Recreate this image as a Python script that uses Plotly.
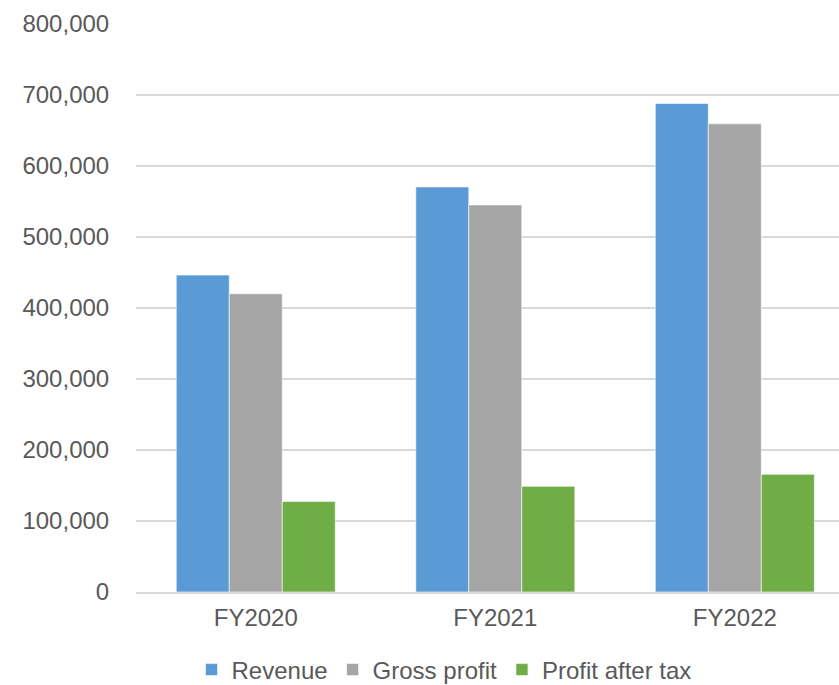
import plotly.graph_objects as go

years = ["FY2020", "FY2021", "FY2022"]
revenue = [446400, 570500, 688000]
gross_profit = [420000, 545100, 659400]
profit_after_tax = [127600, 148800, 165700]

series = [
    ("Revenue", revenue, "#5b9bd5"),
    ("Gross profit", gross_profit, "#a5a5a5"),
    ("Profit after tax", profit_after_tax, "#70ad47"),
]

font_family = "Liberation Sans, Arial, sans-serif"
text_color = "#595959"

fig = go.Figure()
for name, values, color in series:
    fig.add_trace(go.Bar(
        x=years, y=values, name=name,
        marker=dict(color=color, line=dict(color="white", width=0.6)),
    ))

fig.update_layout(
    width=839, height=685,
    margin=dict(l=136, r=0, t=24, b=93, autoexpand=False),
    paper_bgcolor="white", plot_bgcolor="white",
    barmode="group", bargap=0.336, bargroupgap=0,
    font=dict(family=font_family, size=24, color=text_color),
    showlegend=True,
    legend=dict(orientation="h", x=0.079, xanchor="left",
                yref="container", y=1 - 670 / 685, yanchor="middle",
                font=dict(size=24, color=text_color), itemwidth=30,
                traceorder="normal", tracegroupgap=0),
)
fig.update_yaxes(
    range=[0, 800000], dtick=100000, tickformat=",d",
    showgrid=True, gridcolor="#d9d9d9", gridwidth=1.5,
    zeroline=False, showline=False,
    ticks="outside", ticklen=21, tickcolor="rgba(0,0,0,0)",
)
# the category band continues past the right edge of the canvas
fig.update_xaxes(
    range=[-0.5, 2.435],
    showline=True, linecolor="#d9d9d9", linewidth=1.5,
    ticks="outside", ticklen=3, tickcolor="rgba(0,0,0,0)",
)

fig.write_html("out.html")
